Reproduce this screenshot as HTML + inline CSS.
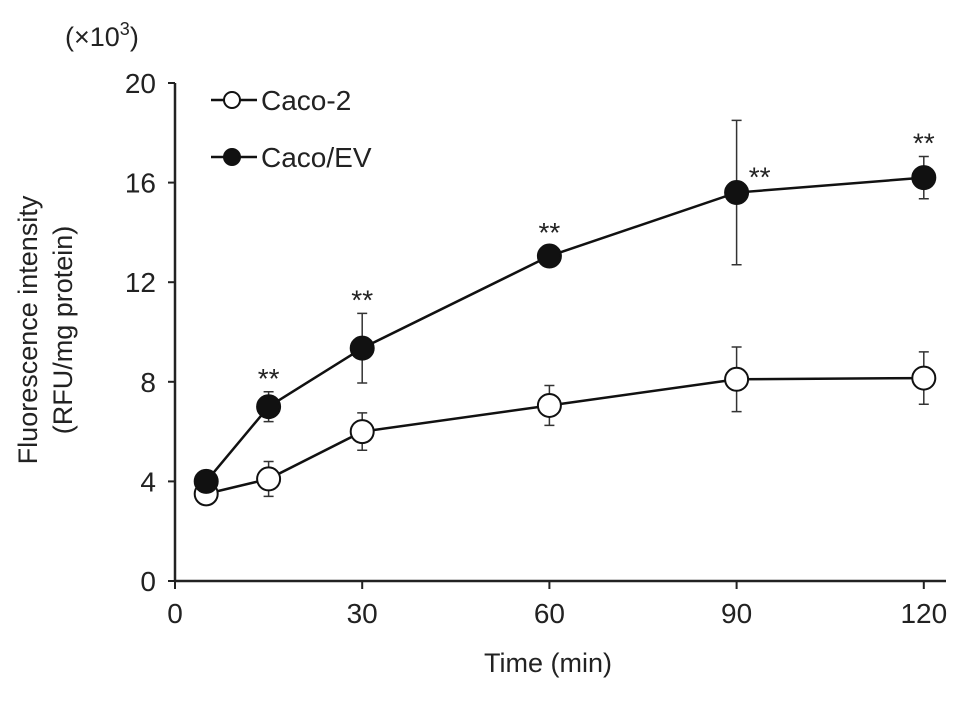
<!DOCTYPE html>
<html><head><meta charset="utf-8"><style>
body{margin:0;background:#fff}
svg text{font-family:"Liberation Sans",Arial,sans-serif;fill:#222}
</style></head><body>
<svg id="chart" width="969" height="699">
<g id="axes"></g><g id="series"></g>
</svg>
<script>
const times=[5,15,30,60,90,120];
const caco2=[3.5,4.1,6.0,7.05,8.1,8.15];
const caco2Err=[0.3,0.7,0.75,0.8,1.3,1.05];
const cacoEV=[4.0,7.0,9.35,13.05,15.6,16.2];
const cacoEVErr=[0.3,0.6,1.4,0.4,2.9,0.85];
const xTicks=[0,30,60,90,120];
const yTicks=[0,4,8,12,16,20];
const ns='http://www.w3.org/2000/svg';
const X=t=>175+t*6.24, Y=v=>581-v*24.9;
function mk(tag,attrs,parent,txt){const e=document.createElementNS(ns,tag);for(const k in attrs)e.setAttribute(k,attrs[k]);if(txt!=null)e.textContent=txt;parent.appendChild(e);return e;}
const ax=document.getElementById('axes'),se=document.getElementById('series');
let e;
e=mk('line',{x1:175,y1:Y(20),x2:175,y2:581,stroke:'#222','stroke-width':2.5},ax);


e=mk('line',{x1:175,y1:581,x2:946,y2:581,stroke:'#222','stroke-width':2.5},ax);


yTicks.forEach(v=>{
 e=mk('line',{x1:168,y1:Y(v),x2:175,y2:Y(v),stroke:'#222','stroke-width':2},ax);
 
 
 e=mk('text',{x:156,y:Y(v)+10,'text-anchor':'end','font-size':28},ax,v);
 
 
});
xTicks.forEach(t=>{
 e=mk('line',{x1:X(t),y1:581,x2:X(t),y2:589,stroke:'#222','stroke-width':2},ax);
 
 
 e=mk('text',{x:X(t),y:623,'text-anchor':'middle','font-size':28},ax,t);
 
 
});
e=mk('text',{x:548,y:672,'text-anchor':'middle','font-size':27},ax,'Time (min)');


e=mk('text',{x:0,y:0,'text-anchor':'middle','font-size':27,transform:'translate(37,330) rotate(-90)'},ax,'Fluorescence intensity');


e=mk('text',{x:0,y:0,'text-anchor':'middle','font-size':27,transform:'translate(72,330) rotate(-90)'},ax,'(RFU/mg protein)');


e=mk('text',{x:65,y:46,'font-size':27},ax,'(×10');


mk('tspan',{dy:-11,'font-size':18},e,'3');
mk('tspan',{dy:11},e,')');

function drawSeries(vals,errs,filled,name){
 const pts=times.map((t,i)=>X(t)+','+Y(vals[i])).join(' ');
 e=mk('polyline',{points:pts,fill:'none',stroke:'#111','stroke-width':2.5},se);
 
 
 times.forEach((t,i)=>{
  const x=X(t);
  e=mk('path',{d:`M${x},${Y(vals[i]-errs[i])}V${Y(vals[i]+errs[i])}M${x-5},${Y(vals[i]+errs[i])}h10M${x-5},${Y(vals[i]-errs[i])}h10`,stroke:'#333','stroke-width':1.5,fill:'none'},se);
  
  
 });
 times.forEach((t,i)=>{
  e=mk('circle',{cx:X(t),cy:Y(vals[i]),r:11.5,fill:filled?'#111':'#fff',stroke:'#111','stroke-width':2},se);
  
  
 });
}
drawSeries(caco2,caco2Err,false,'caco2');
drawSeries(cacoEV,cacoEVErr,true,'caco-ev');
times.forEach((t,i)=>{
 if(i===0)return;
 const top=cacoEV[i]+cacoEVErr[i];
 const yy=i===4?Y(cacoEV[i])-20:Y(top)-18;
 const xx=i===4?X(t)+23:X(t);
 e=mk('text',{x:xx,y:yy+14,'text-anchor':'middle','font-size':28,fill:'#444'},se,'**');
 
 
});
// legend
const lg=mk('g',{},se);


[[false,'Caco-2',100],[true,'Caco/EV',157]].forEach(([f,l,y])=>{
 mk('line',{x1:211,y1:y,x2:257,y2:y,stroke:'#111','stroke-width':2.5},lg);
 e=mk('circle',{cx:232,cy:y,r:8,fill:f?'#111':'#fff',stroke:'#111','stroke-width':2},lg);
 
 
 e=mk('text',{x:261,y:y+10,'font-size':28},lg,l);
 
 
});
</script>
</body></html>
